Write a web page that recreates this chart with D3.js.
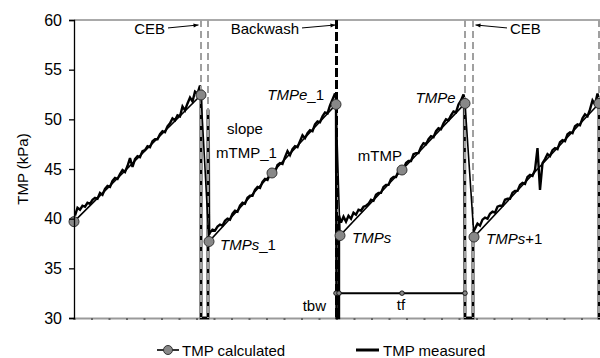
<!DOCTYPE html>
<html lang="en">
<head>
<meta charset="UTF-8">
<title>TMP calculated vs measured</title>
<script src="https://d3js.org/d3.v7.min.js"></script>
<style>
  body { margin: 0; background: #fff; overflow: hidden; }
  svg { display: block; font-family: "Liberation Sans", Arial, Helvetica, sans-serif; }
</style>
</head>
<body>
<svg id="chart" width="600" height="358"></svg>
<script>
// ---- data (time in min, TMP in kPa) ----
const calcTime = [0, 25.4, 27, 39.6, 52.4, 53.2, 65.6, 78.2, 80, 105];
const calcTMP  = [39.7, 52.45, 37.7, 44.6, 51.5, 38.3, 44.9, 51.6, 38.15, 51.6];

// measured TMP, sampled every 0.5 min from each cycle start
const measStep = 0.5;
const measStart = [0.2, 27.2, 53.4, 80.2];
const meas1 = [40.3, 41.1, 40.9, 41.3, 41.2, 41.6, 41.5, 41.9, 42.1, 42.0,
               42.6, 42.4, 43.0, 43.3, 43.2, 43.8, 44.1, 44.0, 44.5, 44.9,
               44.7, 45.3, 46.1, 45.2, 46.0, 46.3, 46.2, 46.8, 46.9, 47.3,
               47.2, 47.8, 48.0, 48.0, 48.5, 48.8, 48.7, 49.3, 49.6, 50.1,
               49.9, 50.4, 50.3, 51.3, 50.9, 51.6, 52.2, 51.8, 52.8, 52.6, 53.4];
const meas2 = [38.6, 38.9, 38.8, 39.2, 39.4, 39.3, 39.8, 40.0, 39.9, 40.5,
               40.8, 40.7, 41.3, 41.6, 41.5, 42.1, 42.3, 42.3, 42.9, 43.2,
               43.1, 43.7, 44.0, 43.9, 44.5, 44.8, 44.7, 45.4, 45.6, 45.5,
               46.2, 46.8, 46.4, 47.0, 47.3, 47.2, 47.8, 48.4, 48.1, 48.6,
               48.9, 48.8, 49.5, 49.8, 49.7, 50.3, 50.7, 50.6, 51.4, 52.0, 52.6];
const meas3 = [39.6, 40.2, 39.7, 40.3, 40.0, 40.6, 40.4, 40.9, 40.8, 41.2,
               41.3, 41.5, 41.9, 41.8, 42.4, 42.6, 42.6, 43.2, 43.4, 43.4,
               44.0, 44.2, 44.2, 44.8, 45.0, 45.0, 45.6, 45.8, 45.8, 46.5,
               46.6, 46.6, 47.2, 47.6, 47.5, 48.0, 48.3, 48.2, 48.8, 49.1,
               49.0, 49.6, 50.0, 49.9, 50.4, 50.8, 50.7, 51.5, 51.9, 52.5];
const meas4 = [39.0, 39.5, 39.3, 39.9, 40.1, 40.0, 40.5, 40.7, 40.6, 41.2,
               41.3, 41.3, 41.9, 42.0, 42.0, 42.6, 42.8, 42.8, 43.4, 43.6,
               43.5, 44.2, 44.4, 44.3, 44.9, 47.1, 42.9, 45.6, 46.0, 46.5,
               46.3, 46.9, 47.1, 47.0, 47.7, 47.9, 47.8, 48.5, 48.7, 48.6,
               49.3, 49.5, 49.4, 50.1, 50.5, 50.3, 51.0, 51.9, 51.5, 52.6];

// cleaning steps in the measured record [time, TMP]
const cebStep1  = [[25.4, 53.0], [25.4, 30], [26.8, 30], [26.8, 51.0], [27.0, 38.4]];
const bwStep    = [[52.4, 52.2], [52.5, 30], [53.0, 30], [53.0, 40.3]];
const cebStep2  = [[78.1, 52.0], [78.2, 30], [79.8, 30], [79.8, 38.6]];
const cebStep3  = [[105, 52.0], [105, 30], [106.4, 30]];

const cebTimes = [25.4, 26.8, 78.2, 79.8, 105];
const backwashTime = 52.5;

const cycleLevel = 32.5;
const tbwTime = [52.4, 53.0];
const tfTime  = [53.0, 65.6, 78.2];

const yTicks = [30, 35, 40, 45, 50, 55, 60];

// ---- layout ----
const svg = d3.select("#chart");
const x = d3.scaleLinear().domain([0, 106]).range([74, 604]);
const y = d3.scaleLinear().domain([30, 60]).range([318, 20]);

const measPts = (vals, i) => vals.map((v, k) => [measStart[i] + k * measStep, v]);
const measured = [].concat(
  measPts(meas1, 0), cebStep1,
  measPts(meas2, 1), bwStep,
  measPts(meas3, 2), cebStep2,
  measPts(meas4, 3), cebStep3
);
const line = d3.line().x(d => x(d[0])).y(d => y(d[1]));

// x axis (gray, no labels) and top frame
svg.append("g")
  .attr("transform", `translate(0,${y(30)})`)
  .call(d3.axisBottom(x).tickValues(d3.range(0, 106, 3.5)).tickSize(2).tickFormat(""))
  .call(g => g.select(".domain").attr("stroke", "#9a9a9a").attr("stroke-width", 2))
  .call(g => g.selectAll(".tick line").attr("stroke", "#666").attr("stroke-width", 2));

svg.append("line")
  .attr("x1", x(0)).attr("x2", 600)
  .attr("y1", y(60)).attr("y2", y(60))
  .attr("stroke", "#555").attr("stroke-width", 1);

// gray underlay on the chemical cleaning steps
[cebStep1, cebStep2, cebStep3].forEach(s => {
  svg.append("path").attr("d", line(s))
    .attr("fill", "none").attr("stroke", "#a0a0a0").attr("stroke-width", 3.5);
});

// measured TMP
svg.append("path")
  .attr("d", line(measured))
  .attr("fill", "none").attr("stroke", "#000")
  .attr("stroke-width", 2.4).attr("stroke-linejoin", "miter").attr("stroke-miterlimit", 3);

// CEB guide lines
svg.selectAll(".ceb").data(cebTimes).join("line")
  .attr("class", "ceb")
  .attr("x1", d => x(d)).attr("x2", d => x(d))
  .attr("y1", y(60)).attr("y2", y(30))
  .attr("stroke", "#a0a0a0").attr("stroke-width", 2).attr("stroke-dasharray", "7,4");

// backwash guide line
svg.append("line")
  .attr("x1", x(backwashTime)).attr("x2", x(backwashTime))
  .attr("y1", y(60)).attr("y2", y(30))
  .attr("stroke", "#000").attr("stroke-width", 3).attr("stroke-dasharray", "9,3");

// calculated TMP
const calcPts = calcTime.map((t, i) => [t, calcTMP[i]]);
svg.append("path")
  .attr("d", line(calcPts))
  .attr("fill", "none").attr("stroke", "#000").attr("stroke-width", 1.6);

// tbw / tf durations
svg.append("path")
  .attr("d", line(tbwTime.concat(tfTime.slice(1)).map(t => [t, cycleLevel])))
  .attr("fill", "none").attr("stroke", "#000").attr("stroke-width", 2);
svg.selectAll(".dur").data(tbwTime.concat(tfTime.slice(1))).join("circle")
  .attr("class", "dur")
  .attr("cx", d => x(d)).attr("cy", y(cycleLevel)).attr("r", 2.3)
  .attr("fill", "#888").attr("stroke", "#000").attr("stroke-width", 0.8);

// calculated markers
svg.selectAll(".mk").data(calcPts).join("circle")
  .attr("class", "mk")
  .attr("cx", d => x(d[0])).attr("cy", d => y(d[1])).attr("r", 5)
  .attr("fill", "#888").attr("stroke", "#333").attr("stroke-width", 1);

// y axis
svg.append("g")
  .attr("transform", `translate(${x(0)},0)`)
  .call(d3.axisLeft(y).tickValues(yTicks).tickSize(5).tickPadding(7))
  .call(g => g.select(".domain").attr("stroke-width", 1.3))
  .call(g => g.selectAll(".tick line").attr("stroke-width", 1.3))
  .call(g => g.selectAll(".tick text")
    .attr("font-family", "Liberation Sans, Arial, sans-serif")
    .attr("font-size", 16).attr("fill", "#000"));

svg.append("text")
  .attr("transform", "translate(27.5,169) rotate(-90)")
  .attr("text-anchor", "middle").attr("font-size", 15)
  .text("TMP (kPa)");

// annotations
const arrowDefs = svg.append("defs");
arrowDefs.append("marker")
  .attr("id", "arr").attr("viewBox", "0 0 10 10")
  .attr("refX", 10).attr("refY", 5)
  .attr("markerWidth", 7).attr("markerHeight", 5).attr("orient", "auto")
  .append("path").attr("d", "M0,1 L10,5 L0,9 Z").attr("fill", "#000");

const notes = [
  { text: "CEB", t: 18.2, v: 58.55, anchor: "end", from: [18.8, 59.2], to: [24.9, 59.5] },
  { text: "Backwash", t: 45.0, v: 58.55, anchor: "end", from: [45.6, 59.2], to: [52.3, 59.5] },
  { text: "CEB", t: 87.2, v: 58.55, anchor: "start", from: [86.6, 59.2], to: [80.3, 59.5] }
];
notes.forEach(n => {
  svg.append("text")
    .attr("x", x(n.t)).attr("y", y(n.v))
    .attr("text-anchor", n.anchor).attr("font-size", 15)
    .text(n.text);
  svg.append("line")
    .attr("x1", x(n.from[0])).attr("y1", y(n.from[1]))
    .attr("x2", x(n.to[0])).attr("y2", y(n.to[1]))
    .attr("stroke", "#000").attr("stroke-width", 1)
    .attr("marker-end", "url(#arr)");
});

const labels = [
  { parts: [["TMPs", true], ["_1", false]], t: 29.2, v: 36.8, anchor: "start" },
  { parts: [["slope", false]], t: 34.2, v: 48.5, anchor: "middle" },
  { parts: [["mTMP_1", false]], t: 28.4, v: 46.1, anchor: "start" },
  { parts: [["TMPe", true], ["_1", false]], t: 50.0, v: 51.9, anchor: "end" },
  { parts: [["TMPs", true]], t: 55.6, v: 37.6, anchor: "start" },
  { parts: [["mTMP", false]], t: 65.6, v: 45.8, anchor: "end" },
  { parts: [["TMPe", true]], t: 76.3, v: 51.6, anchor: "end" },
  { parts: [["TMPs", true], ["+1", false]], t: 82.4, v: 37.5, anchor: "start" },
  { parts: [["tbw", false]], t: 50.4, v: 30.7, anchor: "end" },
  { parts: [["tf", false]], t: 65.4, v: 30.8, anchor: "middle" }
];
labels.forEach(l => {
  const tx = svg.append("text")
    .attr("x", x(l.t)).attr("y", y(l.v))
    .attr("text-anchor", l.anchor).attr("font-size", 15);
  l.parts.forEach(p => tx.append("tspan")
    .attr("font-style", p[1] ? "italic" : "normal").text(p[0]));
});

// legend
const leg = svg.append("g").attr("transform", "translate(0,350)");
leg.append("line").attr("x1", 157).attr("x2", 179).attr("stroke", "#000").attr("stroke-width", 1.6);
leg.append("circle").attr("cx", 168).attr("r", 4.5)
  .attr("fill", "#888").attr("stroke", "#333").attr("stroke-width", 1);
leg.append("text").attr("x", 182).attr("y", 5.5).attr("font-size", 15).text("TMP calculated");
leg.append("line").attr("x1", 356).attr("x2", 379).attr("stroke", "#000").attr("stroke-width", 3);
leg.append("text").attr("x", 383).attr("y", 5.5).attr("font-size", 15).text("TMP measured");
</script>
</body>
</html>
